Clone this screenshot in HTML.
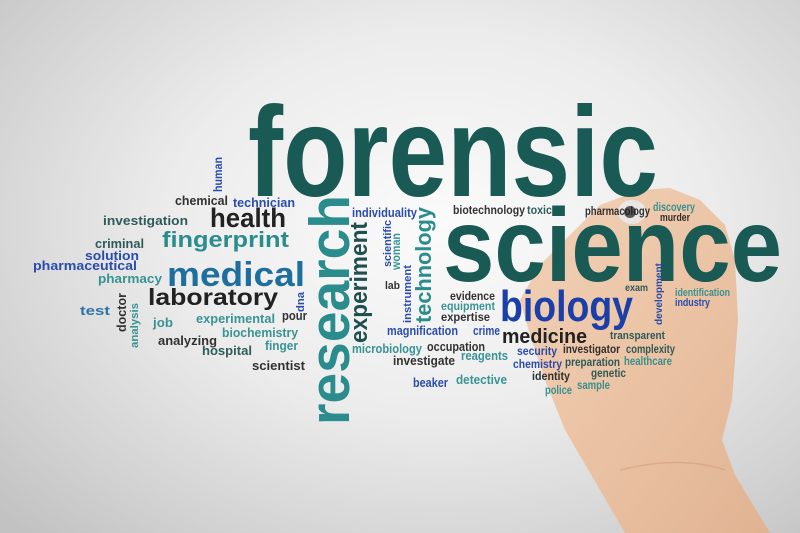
<!DOCTYPE html>
<html><head><meta charset="utf-8">
<style>
html,body{margin:0;padding:0;}
#stage{position:relative;width:800px;height:533px;overflow:hidden;
background:radial-gradient(ellipse 75% 80% at 55% 42%,#fbfbfb 0%,#ececec 45%,#d2d2d2 80%,#c2c2c2 100%);
font-family:"Liberation Sans",sans-serif;}
.w{position:absolute;white-space:nowrap;line-height:1;font-weight:bold;transform-origin:0 0;}
#hand{position:absolute;left:0;top:0;}
</style></head>
<body>
<div id="stage">
<svg id="hand" width="800" height="533">
<defs>
<linearGradient id="skin" x1="0" y1="0" x2="1" y2="1">
<stop offset="0" stop-color="#f2d2b8"/><stop offset="0.5" stop-color="#ebc3a4"/><stop offset="1" stop-color="#e0b392"/>
</linearGradient>
</defs>
<polygon points="600,205 640,190 670,188 700,200 725,225 735,260 738,320 732,400 722,440 735,475 770,533 625,533 600,490 565,430 545,380 530,335 520,300 540,265 575,230" fill="url(#skin)"/>
<path d="M620,470 Q680,455 725,470" stroke="#c98e6c" stroke-width="1.5" fill="none" opacity="0.4"/>
<ellipse cx="632" cy="212" rx="14" ry="12" fill="#e9e9e9" opacity="0.9"/>
<ellipse cx="630" cy="212" rx="6" ry="6" fill="#333" opacity="0.8"/>
</svg>
</div>
<script>
// [text, x, baseline, fontSize, targetWidth, color, vertical]
const DT='#1f4f4f', TL='#2a8c8c', BL='#1a3fa8', DK='#222222', MB='#1e6e9e', BIG='#195a55';
const words=[
["forensic",248,197,128,410,BIG,0],
["science",443,282,104,339,BIG,0],
["research",350,425,57,230,TL,1],
["experiment",368,343,24,121,DT,1],
["technology",432,323,22,116,TL,1],
["human",222,192,12,35,BL,1],
["doctor",126,332,13,39,DK,1],
["analysis",139,348,11,45,TL,1],
["dna",305,312,11,20,BL,1],
["scientific",392,267,11,47,BL,1],
["woman",400,270,12,37,TL,1],
["instrument",412,323,11,58,BL,1],
["development",663,325,10,62,BL,1],
["chemical",175,205,13,53,DK,0],
["technician",233,207,13,62,BL,0],
["investigation",103,225,13,85,DT,0],
["health",210,228,27,76,DK,0],
["criminal",95,248,13,49,DT,0],
["solution",85,260,13,54,BL,0],
["pharmaceutical",33,270,13,104,BL,0],
["pharmacy",98,283,13,64,TL,0],
["fingerprint",162,248,22,127,TL,0],
["medical",167,287,34,138,MB,0],
["laboratory",148,305,23,130,DK,0],
["test",80,315,13,30,MB,0],
["job",153,327,13,20,TL,0],
["experimental",196,323,13,79,TL,0],
["pour",282,320,13,25,DK,0],
["biochemistry",222,337,13,76,TL,0],
["analyzing",158,345,13,59,DK,0],
["finger",265,350,13,33,TL,0],
["hospital",202,355,13,50,DT,0],
["scientist",252,370,13,53,DK,0],
["individuality",352,217,13,65,BL,0],
["lab",385,290,11,15,DK,0],
["biotechnology",453,214,12,72,DK,0],
["toxic",527,214,12,25,DT,0],
["evidence",450,300,12,45,DK,0],
["equipment",441,310,12,54,TL,0],
["expertise",441,321,12,49,DK,0],
["magnification",387,335,13,71,BL,0],
["crime",473,335,13,27,BL,0],
["microbiology",352,353,13,70,TL,0],
["occupation",427,351,13,58,DK,0],
["investigate",393,365,13,62,DK,0],
["reagents",461,360,13,47,TL,0],
["beaker",413,387,13,35,BL,0],
["detective",456,384,13,51,TL,0],
["pharmacology",585,215,12,65,DK,0],
["discovery",653,211,12,42,TL,0],
["murder",660,222,11,30,DK,0],
["exam",625,292,10,23,DT,0],
["identification",675,297,11,55,TL,0],
["industry",675,307,11,35,BL,0],
["biology",500,322,44,133,BL,0],
["medicine",502,344,20,85,DK,0],
["transparent",610,340,11,55,DT,0],
["security",517,355,12,40,BL,0],
["investigator",563,353,12,57,DK,0],
["complexity",626,353,12,49,DT,0],
["chemistry",513,368,12,49,BL,0],
["preparation",565,366,12,55,DT,0],
["healthcare",624,365,12,48,TL,0],
["identity",532,380,12,38,DK,0],
["genetic",591,377,12,35,DT,0],
["police",545,394,12,27,TL,0],
["sample",577,389,12,33,TL,0]
];
const stage=document.getElementById('stage');
words.forEach(function(wd){
  const el=document.createElement('div');
  el.className='w';
  el.textContent=wd[0];
  
  
  el.style.fontSize=wd[3]+'px';
  el.style.color=wd[5];
  if(wd[3]<20) el.style.opacity='0.92';
  stage.appendChild(el);
  const nat=el.getBoundingClientRect().width;
  const s=wd[4]/nat;
  const asc=0.847*wd[3];
  if(wd[6]){
    el.style.left=(wd[1]-asc)+'px';
    el.style.top=wd[2]+'px';
    el.style.transform='rotate(-90deg) scaleX('+s+')';
  } else {
    el.style.left=wd[1]+'px';
    el.style.top=(wd[2]-asc)+'px';
    el.style.transform='scaleX('+s+')';
  }
});
</script>
</body></html>
